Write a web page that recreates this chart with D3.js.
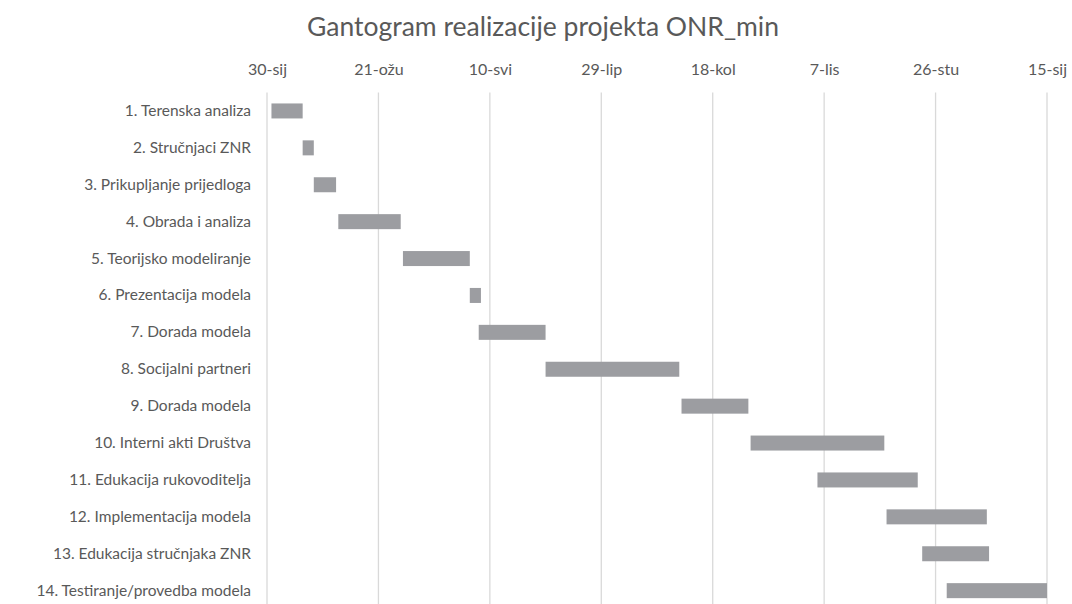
<!DOCTYPE html>
<meta charset="utf-8">
<script src="https://cdn.jsdelivr.net/npm/d3@7"></script>
<style>
    body { margin: 0; background: #fff; }
    text { font-family: Lato, "Open Sans", sans-serif; fill: #595959; }
</style>
<svg width="1072" height="604"></svg>
<script>
    // tasks, start dates and durations (days)
    var tasks = [
        "1. Terenska analiza",
        "2. Stručnjaci ZNR",
        "3. Prikupljanje prijedloga",
        "4. Obrada i analiza",
        "5. Teorijsko modeliranje",
        "6. Prezentacija modela",
        "7. Dorada modela",
        "8. Socijalni partneri",
        "9. Dorada modela",
        "10. Interni akti Društva",
        "11. Edukacija rukovoditelja",
        "12. Implementacija modela",
        "13. Edukacija stručnjaka ZNR",
        "14. Testiranje/provedba modela"
    ];
    var startDates = ["2019-02-01", "2019-02-15", "2019-02-20", "2019-03-03", "2019-04-01", "2019-05-01", "2019-05-05",
        "2019-06-04", "2019-08-04", "2019-09-04", "2019-10-04", "2019-11-04", "2019-11-20", "2019-12-01"];
    var durations = [14, 5, 10, 28, 30, 5, 30, 60, 30, 60, 45, 45, 30, 45];

    var axisMin = "2019-01-30", axisMax = "2020-01-15", tickStep = 50;
    var monthNames = ["sij", "velj", "ožu", "tra", "svi", "lip", "srp", "kol", "ruj", "lis", "stu", "pro"];

    var parse = d3.utcParse("%Y-%m-%d");
    var data = tasks.map(function (t, i) {
        var s = parse(startDates[i]);
        return {name: t, start: s, end: d3.utcDay.offset(s, durations[i])};
    });

    var svg = d3.select("svg");
    var plotLeft = 267, plotRight = 1047, plotTop = 92.5, rowH = 36.9;

    var x = d3.scaleUtc()
        .domain([parse(axisMin), parse(axisMax)])
        .range([plotLeft, plotRight]);
    var y = d3.scaleBand()
        .domain(tasks)
        .range([plotTop, plotTop + rowH * tasks.length]);

    var ticks = d3.utcDay.range(parse(axisMin), d3.utcDay.offset(parse(axisMax), 1), 1)
        .filter(function (d, i) { return i % tickStep === 0; });

    // title
    svg.append("text")
        .attr("x", 543).attr("y", 36)
        .attr("text-anchor", "middle")
        .style("font-size", "26.5px")
        .text("Gantogram realizacije projekta ONR_min");

    // gridlines
    svg.append("g").selectAll("line")
        .data(ticks).enter().append("line")
        .attr("x1", function (d) { return x(d); })
        .attr("x2", function (d) { return x(d); })
        .attr("y1", plotTop).attr("y2", 604)
        .attr("stroke", "#d9d9d9")
        .attr("stroke-width", 1.3);

    // top axis
    var xAxis = d3.axisTop(x)
        .tickValues(ticks)
        .tickSize(0)
        .tickPadding(0)
        .tickFormat(function (d) { return d.getUTCDate() + "-" + monthNames[d.getUTCMonth()]; });
    var gx = svg.append("g").attr("transform", "translate(0,75)").call(xAxis);
    gx.select(".domain").remove();
    gx.selectAll("text").style("font-size", "16px").attr("fill", "#595959").style("font-family", "Lato, sans-serif");

    // category labels
    var yAxis = d3.axisLeft(y).tickSize(0).tickPadding(0);
    var gy = svg.append("g").attr("transform", "translate(251,0)").call(yAxis);
    gy.select(".domain").remove();
    gy.selectAll("text").style("font-size", "15.5px").attr("fill", "#595959").style("font-family", "Lato, sans-serif");

    // bars
    var barH = 15;
    svg.append("g").selectAll("rect")
        .data(data).enter().append("rect")
        .attr("x", function (d) { return x(d.start); })
        .attr("width", function (d) { return x(d.end) - x(d.start); })
        .attr("y", function (d) { return y(d.name) + y.bandwidth() / 2 - barH / 2; })
        .attr("height", barH)
        .attr("fill", "#9c9da1");
</script>
